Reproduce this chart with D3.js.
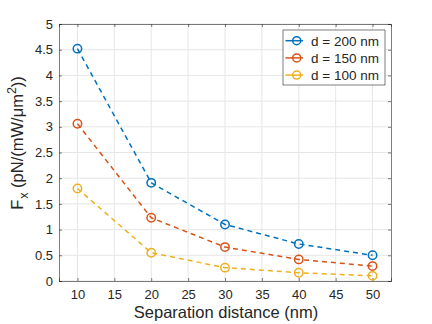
<!DOCTYPE html>
<html lang="en">
<head>
  <meta charset="UTF-8">
  <script src="https://d3js.org/d3.v7.min.js"></script>
  <title>Fx vs separation</title>
  <style>
    body { margin: 0; background: #fff; }
    text { font-family: "Liberation Sans", Arial, sans-serif; fill: #262626; }
  </style>
</head>
<body>
  <svg id="chart" width="432" height="324"></svg>
  <script>
    const separation = [10, 20, 30, 40, 50];
    const d200 = [4.52, 1.91, 1.10, 0.72, 0.50];
    const d150 = [3.06, 1.23, 0.66, 0.42, 0.29];
    const d100 = [1.80, 0.55, 0.26, 0.16, 0.10];
    const seriesNames = ['d = 200 nm', 'd = 150 nm', 'd = 100 nm'];
    const seriesColors = ['#0072BD', '#D95319', '#EDB120'];
    const xTicks = [10, 15, 20, 25, 30, 35, 40, 45, 50];
    const yTicks = [0, 0.5, 1, 1.5, 2, 2.5, 3, 3.5, 4, 4.5, 5];

    const series = [d200, d150, d100].map((vals, i) => ({
      name: seriesNames[i], color: seriesColors[i],
      pts: vals.map((v, j) => ({ x: separation[j], y: v }))
    }));

    const m = { left: 59, right: 41, top: 24, bottom: 43 };
    const W = 432, H = 324;
    const svg = d3.select('#chart');

    const x = d3.scaleLinear().domain([7.5, 52.5]).range([m.left, W - m.right]);
    const y = d3.scaleLinear().domain([0, 5]).range([H - m.bottom, m.top]);

    // grid
    const grid = svg.append('g').attr('stroke', '#e6e6e6').attr('stroke-width', 1);
    xTicks.forEach(t => grid.append('line')
      .attr('x1', x(t)).attr('x2', x(t)).attr('y1', y(0)).attr('y2', y(5)));
    yTicks.forEach(t => grid.append('line')
      .attr('x1', x(7.5)).attr('x2', x(52.5)).attr('y1', y(t)).attr('y2', y(t)));

    // axes (box with ticks all round)
    const fmt = d => d3.format('')(d);
    const axB = svg.append('g').attr('transform', `translate(0,${H - m.bottom})`)
      .call(d3.axisBottom(x).tickValues(xTicks).tickSize(-3).tickPadding(9).tickFormat(fmt));
    const axT = svg.append('g').attr('transform', `translate(0,${m.top})`)
      .call(d3.axisTop(x).tickValues(xTicks).tickSize(-3).tickFormat(''));
    const axL = svg.append('g').attr('transform', `translate(${m.left},0)`)
      .call(d3.axisLeft(y).tickValues(yTicks).tickSize(-3).tickPadding(6).tickFormat(fmt));
    const axR = svg.append('g').attr('transform', `translate(${W - m.right},0)`)
      .call(d3.axisRight(y).tickValues(yTicks).tickSize(-3).tickFormat(''));
    [axB, axT, axL, axR].forEach(a => {
      a.selectAll('path, line').attr('stroke', '#262626').attr('stroke-width', 0.6);
      a.selectAll('text').style('font-size', '13px').attr('fill', '#262626');
    });

    // lines and markers
    const line = d3.line().x(d => x(d.x)).y(d => y(d.y));
    series.forEach(s => {
      svg.append('path').datum(s.pts)
        .attr('d', line).attr('fill', 'none')
        .attr('stroke', s.color).attr('stroke-width', 1.5)
        .attr('stroke-dasharray', '5,4');
      svg.selectAll(null).data(s.pts).enter().append('circle')
        .attr('cx', d => x(d.x)).attr('cy', d => y(d.y)).attr('r', 4.2)
        .attr('fill', 'none').attr('stroke', s.color).attr('stroke-width', 1.5);
    });

    // legend
    const lg = svg.append('g').attr('transform', 'translate(283,30)');
    lg.append('rect').attr('width', 102).attr('height', 55)
      .attr('fill', '#fff').attr('stroke', '#262626').attr('stroke-width', 0.6);
    series.forEach((s, i) => {
      const ly = 10.7 + i * 17.2;
      lg.append('line').attr('x1', 2.5).attr('x2', 20).attr('y1', ly).attr('y2', ly)
        .attr('stroke', s.color).attr('stroke-width', 1.5);
      lg.append('circle').attr('cx', 13.7).attr('cy', ly).attr('r', 4)
        .attr('fill', 'none').attr('stroke', s.color).attr('stroke-width', 1.5);
      lg.append('text').attr('x', 28).attr('y', ly + 5)
        .style('font-size', '13.5px').text(s.name);
    });

    // axis labels
    svg.append('text').attr('x', 226).attr('y', 318)
      .attr('text-anchor', 'middle').style('font-size', '16.5px')
      .text('Separation distance (nm)');

    const yl = svg.append('text')
      .attr('transform', 'translate(23,143) rotate(-90)')
      .attr('text-anchor', 'middle').style('font-size', '16.5px');
    yl.append('tspan').text('F');
    yl.append('tspan').attr('dy', 5).attr('dx', 1).style('font-size', '12.5px').text('x');
    yl.append('tspan').attr('dy', -5).text(' (pN/(mW/μm');
    yl.append('tspan').attr('dy', -7).style('font-size', '12.5px').text('2');
    yl.append('tspan').attr('dy', 7).text('))');
  </script>
</body>
</html>
